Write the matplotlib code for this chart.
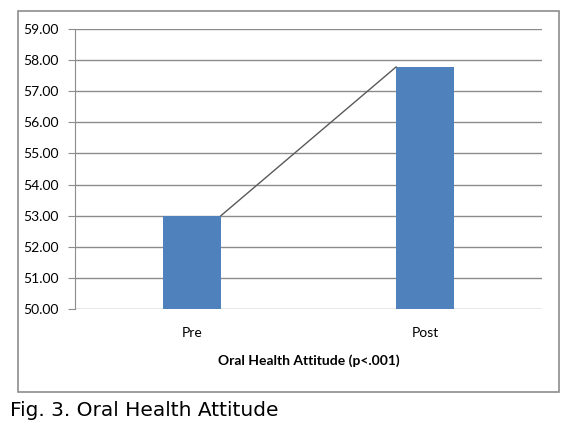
import matplotlib
matplotlib.use("Agg")
import matplotlib.pyplot as plt
from matplotlib.patches import Rectangle

# Datos
categorias = ["Pre", "Post"]
valores = [53.0, 57.78]
marcas_y = [50, 51, 52, 53, 54, 55, 56, 57, 58, 59]

ancho = 0.25
azul = "#4F81BD"
gris = "#8c8c8c"

fig = plt.figure(figsize=(5.79, 4.25), dpi=100)

# Marco exterior del grafico
fig.patches.append(Rectangle((18 / 579, 1 - 392 / 425), (559 - 18) / 579, (392 - 11) / 425,
                             transform=fig.transFigure, fill=False, edgecolor="#8c8c8c", linewidth=1.2))

ax = fig.add_axes([75 / 579, 1 - 309 / 425, (542 - 75) / 579, (309 - 29) / 425])

x = range(len(categorias))
ax.bar(x, [v - 50 for v in valores], bottom=50, width=ancho, color=azul, zorder=3)

# Linea que une los extremos de las barras
ax.plot([0 + ancho / 2, 1 - ancho / 2], valores, color="#595959", linewidth=1.0, zorder=4)

ax.set_xlim(-0.5, 1.5)
ax.set_ylim(50, 59)
ax.set_yticks(marcas_y)
ax.set_yticklabels([f"{m:.2f}" for m in marcas_y], fontsize=10, family="Lato")
ax.set_xticks(list(x))
ax.set_xticklabels(categorias, fontsize=10, family="Lato")
ax.yaxis.grid(True, color=gris, linewidth=1.0, zorder=0)
ax.tick_params(axis="x", length=0, pad=13)
ax.tick_params(axis="y", length=5, color=gris, pad=7)

for lado in ["top", "right", "bottom"]:
    ax.spines[lado].set_visible(False)
ax.spines["left"].set_color(gris)

ax.set_xlabel("Oral Health Attitude (p<.001)", fontsize=10, fontweight="bold", family="Lato", labelpad=11)

fig.text(10 / 579, 1 - 410 / 425, "Fig. 3. Oral Health Attitude", fontsize=14.5,
         family="DejaVu Sans", va="center", ha="left")

fig.savefig("out.png", dpi=100)
